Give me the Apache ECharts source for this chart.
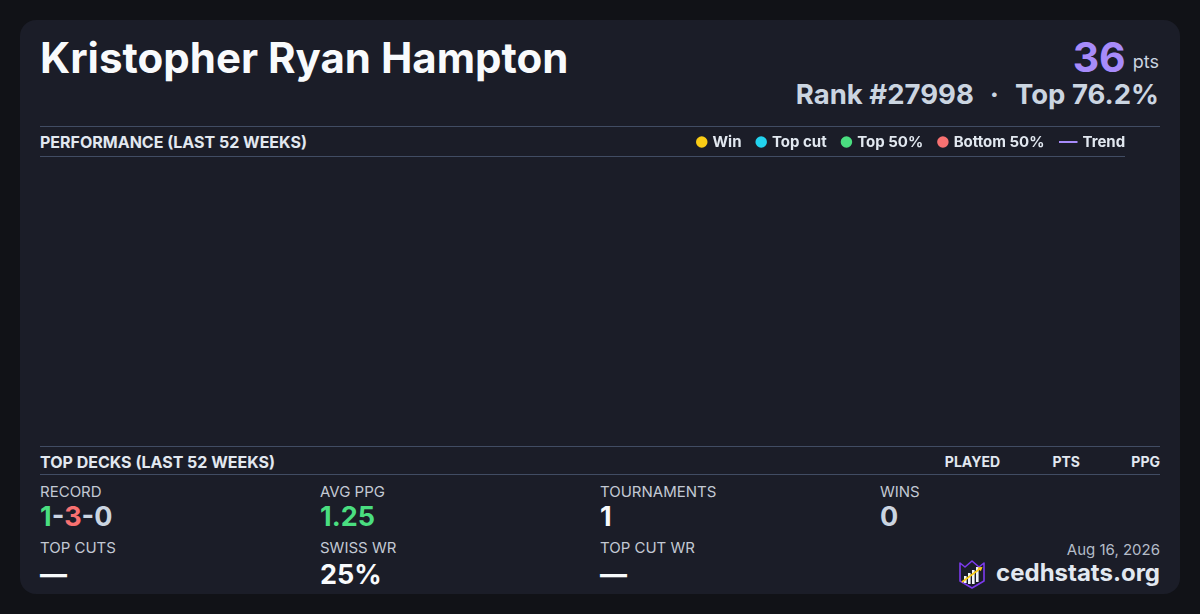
<!DOCTYPE html>
<html>
<head>
<meta charset="utf-8">
<script src="https://cdn.jsdelivr.net/npm/echarts@6/dist/echarts.min.js"></script>
<style>
  html, body { margin:0; padding:0; width:1200px; height:614px; background:#111217; overflow:hidden; font-family: Inter, "Noto Sans", sans-serif; }
  .card { position:absolute; left:20px; top:20px; width:1160px; height:574px; background:#1b1d28; border-radius:16px; }
  .abs { position:absolute; line-height:1; white-space:nowrap; }
  .rule { position:absolute; height:1px; background:#414c63; }
  .hdr { font-size:16px; font-weight:700; color:#e2e8f0; }
  .lbl { font-size:15px; font-weight:400; color:#c3c9d4; }
  .val { font-size:27px; font-weight:700; }
  .colh { font-size:14px; font-weight:700; color:#e2e8f0; text-align:right; }
  #chart { position:absolute; left:40px; top:127px; width:1120px; height:318px; }
</style>
</head>
<body>
<div class="card"></div>

<div class="abs" style="left:40px; top:37px; font-size:42px; font-weight:700; color:#f8fafc;">Kristopher Ryan Hampton</div>

<div class="abs" style="right:41px; top:37px; text-align:right;">
  <span style="font-size:41px; font-weight:700; color:#a78bfa;">36</span><span style="font-size:18px; color:#cbd5e1; margin-left:7px; position:relative; top:-4px;">pts</span>
</div>
<div class="abs" style="right:41px; top:81px; font-size:27.5px; font-weight:700; color:#cbd5e1;">
  <span>Rank #27998</span><span style="margin:0 16px;">·</span><span>Top 76.2%</span>
</div>

<div class="rule" style="left:40px; top:126px; width:1120px;"></div>
<div class="abs hdr" style="left:40px; top:134px;">PERFORMANCE (LAST 52 WEEKS)</div>
<div class="rule" style="left:40px; top:156px; width:1085px;"></div>

<div id="chart"></div>

<div class="rule" style="left:40px; top:446px; width:1120px;"></div>
<div class="abs hdr" style="left:40px; top:454px;">TOP DECKS (LAST 52 WEEKS)</div>
<div class="abs colh" style="right:200px; top:455px;">PLAYED</div>
<div class="abs colh" style="right:120px; top:455px;">PTS</div>
<div class="abs colh" style="right:40px; top:455px;">PPG</div>
<div class="rule" style="left:40px; top:474px; width:1120px;"></div>

<div class="abs lbl" style="left:40px; top:484px;">RECORD</div>
<div class="abs val" style="left:40px; top:503px;"><span style="color:#4ade80;">1</span><span style="color:#cbd5e1;">-</span><span style="color:#f87171;">3</span><span style="color:#cbd5e1;">-0</span></div>
<div class="abs lbl" style="left:320px; top:484px;">AVG PPG</div>
<div class="abs val" style="left:320px; top:503px; color:#4ade80;">1.25</div>
<div class="abs lbl" style="left:600px; top:484px;">TOURNAMENTS</div>
<div class="abs val" style="left:600px; top:503px; color:#f8fafc;">1</div>
<div class="abs lbl" style="left:880px; top:484px;">WINS</div>
<div class="abs val" style="left:880px; top:503px; color:#cbd5e1;">0</div>

<div class="abs lbl" style="left:40px; top:540px;">TOP CUTS</div>
<div class="abs val" style="left:40px; top:561px; color:#f8fafc;">—</div>
<div class="abs lbl" style="left:320px; top:540px;">SWISS WR</div>
<div class="abs val" style="left:320px; top:561px; color:#f8fafc;">25%</div>
<div class="abs lbl" style="left:600px; top:540px;">TOP CUT WR</div>
<div class="abs val" style="left:600px; top:561px; color:#f8fafc;">—</div>

<div class="abs" style="right:40px; top:542px; font-size:15px; color:#b4bcc8;">Aug 16, 2026</div>
<svg style="position:absolute; left:957px; top:559px;" width="30" height="30" viewBox="0 0 30 30">
  <path d="M3 4 L8 8 L15 2 L22 8 L27 4 L27 22 L15 29 L3 22 Z" fill="#1b1d28" stroke="#7c3aed" stroke-width="1.6" stroke-linejoin="round"/>
  <rect x="7" y="17" width="2.6" height="7" fill="#f1f5f9"/>
  <rect x="11" y="14" width="2.6" height="11" fill="#f1f5f9"/>
  <rect x="15" y="11" width="2.6" height="14" fill="#f1f5f9"/>
  <rect x="19" y="8" width="2.6" height="15" fill="#f1f5f9"/>
  <line x1="5" y1="23" x2="24" y2="9" stroke="#facc15" stroke-width="1.6"/>
  <path d="M25.5 8 L20.5 8.6 L23.8 12.3 Z" fill="#facc15"/>
</svg>
<div class="abs" style="right:40px; top:561px; font-size:24px; font-weight:700; color:#e2e8f0;">cedhstats.org</div>

<script>
// Weekly performance (last 52 weeks): no plotted results in the reference
const weeks = [];
const winPoints = [];
const topCutPoints = [];
const top50Points = [];
const bottom50Points = [];
const trendValues = [];

const legendNames = ['Win', 'Top cut', 'Top 50%', 'Bottom 50%'];
const trendName = 'Trend';

const chart = echarts.init(document.getElementById('chart'), null, { renderer: 'canvas' });
const legendText = { color: '#e2e8f0', fontSize: 15, fontWeight: 700, fontFamily: 'Inter', lineHeight: 18 };
chart.setOption({
  animation: false,
  backgroundColor: 'transparent',
  legend: [
    {
      data: legendNames, left: 656, top: 6, padding: 0, icon: 'circle',
      itemWidth: 11.5, itemHeight: 11.5, itemGap: 14, textStyle: legendText, selectedMode: false
    },
    {
      data: [trendName], left: 1019, top: 6, padding: 0, icon: 'rect',
      itemWidth: 18.5, itemHeight: 2, itemGap: 14, textStyle: legendText, selectedMode: false
    }
  ],
  grid: { left: 10, right: 10, top: 45, bottom: 10 },
  xAxis: { type: 'category', data: weeks, show: false },
  yAxis: { type: 'value', show: false },
  series: [
    { name: 'Win', type: 'scatter', data: winPoints, itemStyle: { color: '#facc15', opacity: 1 } },
    { name: 'Top cut', type: 'scatter', data: topCutPoints, itemStyle: { color: '#22d3ee', opacity: 1 } },
    { name: 'Top 50%', type: 'scatter', data: top50Points, itemStyle: { color: '#4ade80', opacity: 1 } },
    { name: 'Bottom 50%', type: 'scatter', data: bottom50Points, itemStyle: { color: '#f87171', opacity: 1 } },
    { name: 'Trend', type: 'line', data: trendValues, showSymbol: false, itemStyle: { color: '#a78bfa' }, lineStyle: { color: '#a78bfa', width: 2 } }
  ]
});
</script>
</body>
</html>
